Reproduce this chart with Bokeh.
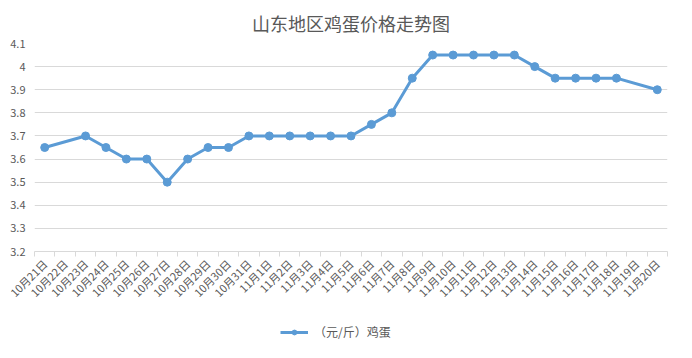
from bokeh.plotting import figure
from bokeh.layouts import column
from bokeh.models import (FixedTicker, NumeralTickFormatter, Legend, LegendItem, Range1d, Title)
from bokeh.embed import file_html
from bokeh.resources import INLINE

# ---- data ----
dates = ["10月21日", "10月22日", "10月23日", "10月24日", "10月25日", "10月26日", "10月27日",
         "10月28日", "10月29日", "10月30日", "10月31日", "11月1日", "11月2日", "11月3日",
         "11月4日", "11月5日", "11月6日", "11月7日", "11月8日", "11月9日", "11月10日",
         "11月11日", "11月12日", "11月13日", "11月14日", "11月15日", "11月16日", "11月17日",
         "11月18日", "11月19日", "11月20日"]
prices = [3.65, None, 3.70, 3.65, 3.60, 3.60, 3.50, 3.60, 3.65, 3.65, 3.70, 3.70, 3.70, 3.70,
          3.70, 3.70, 3.75, 3.80, 3.95, 4.05, 4.05, 4.05, 4.05, 4.05, 4.00, 3.95, 3.95, 3.95,
          3.95, None, 3.90]
y_ticks = [3.2, 3.3, 3.4, 3.5, 3.6, 3.7, 3.8, 3.9, 4.0, 4.1]
series_name = "（元/斤）鸡蛋"
title_text = "山东地区鸡蛋价格走势图"

FONT = "Noto Sans CJK SC"
TXT = "#595959"
GRID = "#d9d9d9"
BLUE = "#5b9bd5"

xs = [i for i, v in enumerate(prices) if v is not None]
ys = [v for v in prices if v is not None]

W = 676
H_MAIN = 308
H_LEG = 34

p = figure(width=W, height=H_MAIN, output_backend="svg", toolbar_location=None,
           x_range=Range1d(-0.5, len(dates) - 0.5), y_range=Range1d(y_ticks[0], y_ticks[-1]),
           min_border_left=34, min_border_right=9, min_border_top=43, min_border_bottom=52)
p.outline_line_color = None
p.background_fill_color = "white"
p.border_fill_color = "white"

p.title = Title(text=title_text, align="center", text_font=FONT, text_font_size="18px",
                text_color=TXT, text_font_style="normal", standoff=15, offset=-6)

r = p.line(xs, ys, line_color=BLUE, line_width=3)
c = p.scatter(xs, ys, size=8, fill_color=BLUE, line_color=BLUE)

# x axis
xa = p.xaxis[0]
xa.ticker = FixedTicker(ticks=list(range(len(dates))),
                        minor_ticks=[i - 0.5 for i in range(len(dates) + 1)])
xa.major_label_overrides = {i: d for i, d in enumerate(dates)}
xa.major_label_orientation = 0.785398
xa.major_tick_line_color = None
xa.minor_tick_line_color = GRID
xa.minor_tick_in = 0
xa.minor_tick_out = 5
xa.axis_line_color = GRID
xa.major_label_text_font = FONT
xa.major_label_text_font_size = "11px"
xa.major_label_text_color = TXT
xa.major_label_standoff = 4

# y axis
ya = p.yaxis[0]
ya.ticker = FixedTicker(ticks=y_ticks)
ya.formatter = NumeralTickFormatter(format="0.[0]")
ya.axis_line_color = None
ya.major_tick_line_color = None
ya.minor_tick_line_color = None
ya.major_label_text_font = FONT
ya.major_label_text_font_size = "11px"
ya.major_label_text_color = TXT
ya.major_label_standoff = 3

p.xgrid.grid_line_color = None
p.ygrid.grid_line_color = GRID
p.ygrid.ticker = FixedTicker(ticks=y_ticks)

# legend strip: a small axis-less figure whose view excludes the data, holding only the legend
pl = figure(width=W, height=H_LEG, output_backend="svg", toolbar_location=None,
            x_axis_location=None, y_axis_location=None,
            x_range=Range1d(100, 101), y_range=Range1d(100, 101),
            min_border=0, min_border_left=0, min_border_right=0,
            min_border_top=0, min_border_bottom=0)
pl.grid.visible = False
pl.outline_line_color = None
pl.background_fill_color = "white"
pl.border_fill_color = "white"
lr = pl.line(xs, ys, line_color=BLUE, line_width=3)
lc = pl.scatter(xs, ys, size=8, fill_color=BLUE, line_color=BLUE)

legend = Legend(items=[LegendItem(label=series_name, renderers=[lr, lc])],
                orientation="horizontal", location=(246, 2),
                label_text_font=FONT, label_text_font_size="12px", label_text_color=TXT,
                glyph_width=28, glyph_height=12, border_line_color=None,
                background_fill_alpha=0, margin=0, padding=4, label_standoff=6)
pl.add_layout(legend)

layout = column(p, pl, spacing=0)
open("out.html", "w").write(file_html(layout, INLINE))
